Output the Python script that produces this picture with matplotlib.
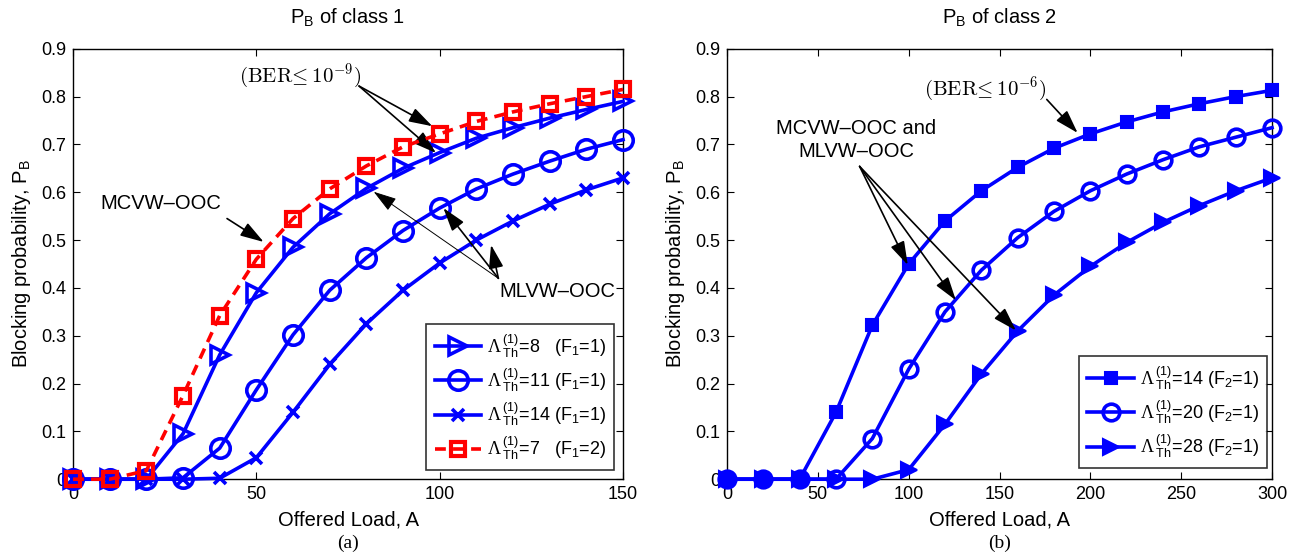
import numpy as np
import matplotlib
matplotlib.use("Agg")
import matplotlib.pyplot as plt

plt.rcParams['font.family'] = ['Liberation Sans', 'DejaVu Sans']
plt.rcParams['mathtext.fontset'] = 'custom'
plt.rcParams['mathtext.rm'] = 'Liberation Serif'
plt.rcParams['mathtext.sf'] = 'Liberation Sans'
plt.rcParams['mathtext.it'] = 'Liberation Sans:italic'

# panel (a): class 1
load_a = [0, 10, 20, 30, 40, 50, 60, 70, 80, 90, 100, 110, 120, 130, 140, 150]
pb_a_th8 = [0, 0, 0, 0.095, 0.26, 0.39, 0.485, 0.555, 0.608, 0.65, 0.683, 0.713, 0.735, 0.755, 0.773, 0.79]
pb_a_th11 = [0, 0, 0, 0.003, 0.065, 0.187, 0.302, 0.395, 0.463, 0.52, 0.567, 0.607, 0.638, 0.665, 0.69, 0.71]
pb_a_th14 = [0, 0, 0, 0, 0.002, 0.045, 0.14, 0.24, 0.325, 0.395, 0.452, 0.5, 0.54, 0.575, 0.605, 0.63]
pb_a_th7 = [0, 0, 0.018, 0.175, 0.342, 0.46, 0.545, 0.607, 0.655, 0.695, 0.722, 0.748, 0.768, 0.785, 0.8, 0.815]

# panel (b): class 2
load_b = [0, 20, 40, 60, 80, 100, 120, 140, 160, 180, 200, 220, 240, 260, 280, 300]
pb_b_th14 = [0, 0, 0, 0.14, 0.322, 0.45, 0.54, 0.603, 0.652, 0.692, 0.722, 0.747, 0.768, 0.785, 0.8, 0.813]
pb_b_th20 = [0, 0, 0, 0, 0.085, 0.23, 0.35, 0.437, 0.505, 0.56, 0.603, 0.638, 0.668, 0.695, 0.715, 0.735]
pb_b_th28 = [0, 0, 0, 0, 0, 0.02, 0.115, 0.22, 0.31, 0.385, 0.445, 0.495, 0.537, 0.572, 0.603, 0.63]

BLUE = (0, 0, 1)
RED = (1, 0, 0)
LW = 2.6
FS = 14.5


def lam(v, f, spaces=" "):
    return (r"$\Lambda\,^{\mathsf{(1)}}_{\mathsf{Th}}$=" + v + spaces
            + r"(F$_{\mathsf{" + f[0] + "}}$=" + f[1] + ")")


def style_axes(ax, xmax, xstep):
    ax.set_xlim(0, xmax)
    ax.set_ylim(0, 0.9)
    ax.set_xticks(np.arange(0, xmax + 1, xstep))
    ax.set_yticks(np.arange(0, 0.91, 0.1))
    ax.set_yticklabels(["0"] + ["%.1f" % v for v in np.arange(0.1, 0.91, 0.1)])
    ax.tick_params(direction="in", top=True, right=True, labelsize=13, length=5, pad=5)
    ax.set_xlabel("Offered Load, A", fontsize=FS, labelpad=5)
    ax.set_ylabel(r"Blocking probability, P$_{\mathsf{B}}$", fontsize=FS, labelpad=6)
    for s in ax.spines.values():
        s.set_linewidth(1.0)


def add_legend(ax, anchor):
    leg = ax.legend(loc="lower right", fontsize=13, fancybox=False, edgecolor="black",
                    handlelength=2.6, labelspacing=0.38, borderpad=0.45, handletextpad=0.3,
                    bbox_to_anchor=anchor, borderaxespad=0)
    leg.get_frame().set_linewidth(1.2)
    return leg


fig = plt.figure(figsize=(13.04, 5.54), dpi=100)
ax1 = fig.add_axes([0.056, 0.135, 0.4218, 0.777])
ax2 = fig.add_axes([0.5575, 0.135, 0.418, 0.777])

# ---- panel (a)
ax1.plot(load_a, pb_a_th8, color=BLUE, lw=LW, marker=">", ms=13, mfc="none", mew=2.6,
         label=lam("8", "11", "   "), zorder=3, clip_on=False)
ax1.plot(load_a, pb_a_th11, color=BLUE, lw=LW, marker="o", ms=14, mfc="none", mew=2.6,
         label=lam("11", "11"), zorder=3, clip_on=False)
ax1.plot(load_a, pb_a_th14, color=BLUE, lw=LW, marker="x", ms=9, mew=2.6,
         label=lam("14", "11"), zorder=3, clip_on=False)
ax1.plot(load_a, pb_a_th7, color=RED, lw=LW, ls=(0, (3, 2)), marker="s", ms=10, mfc="none", mew=3,
         label=lam("7", "12", "   "), zorder=4, clip_on=False)
style_axes(ax1, 150, 50)
ax1.set_title(r"P$_{\mathsf{B}}$ of class 1", fontsize=FS, pad=18)
add_legend(ax1, (0.984, 0.021))

arr = dict(arrowstyle="-|>,head_length=0.8,head_width=0.25", color="black", lw=1.2,
           mutation_scale=18, shrinkA=0, shrinkB=0)
arr_thin = dict(arr, lw=0.7)
ax1.text(62, 0.843, r"$\mathrm{(BER\!\leq 10^{-9})}$", fontsize=15, ha="center", va="center",
         math_fontfamily="cm")
ax1.annotate("", xy=(98, 0.738), xytext=(78, 0.822), arrowprops=arr)
ax1.annotate("", xy=(99, 0.682), xytext=(78, 0.822), arrowprops=arr)
ax1.text(24, 0.576, "MCVW\u2013OOC", fontsize=FS, ha="center", va="center")
ax1.annotate("", xy=(52, 0.496), xytext=(42, 0.545), arrowprops=arr)
ax1.text(132, 0.392, "MLVW\u2013OOC", fontsize=FS, ha="center", va="center")
ax1.annotate("", xy=(82, 0.601), xytext=(116, 0.42), arrowprops=arr_thin)
ax1.annotate("", xy=(101, 0.567), xytext=(116, 0.42), arrowprops=arr)
ax1.annotate("", xy=(114, 0.49), xytext=(116, 0.42), arrowprops=arr)

# ---- panel (b)
ax2.plot(load_b, pb_b_th14, color=BLUE, lw=LW, marker="s", ms=8, mfc=BLUE, mew=1.5,
         label=lam("14", "21"), zorder=3, clip_on=False)
ax2.plot(load_b, pb_b_th20, color=BLUE, lw=LW, marker="o", ms=12, mfc="none", mew=2.6,
         label=lam("20", "21"), zorder=3, clip_on=False)
ax2.plot(load_b, pb_b_th28, color=BLUE, lw=LW, marker=">", ms=12, mfc=BLUE, mew=1.5,
         label=lam("28", "21"), zorder=3, clip_on=False)
style_axes(ax2, 300, 50)
ax2.set_title(r"P$_{\mathsf{B}}$ of class 2", fontsize=FS, pad=18)
add_legend(ax2, (0.991, 0.026))

ax2.text(142, 0.816, r"$\mathrm{(BER\!\leq 10^{-6})}$", fontsize=15, ha="center", va="center",
         math_fontfamily="cm")
ax2.annotate("", xy=(193, 0.724), xytext=(176, 0.794), arrowprops=arr)
ax2.text(71, 0.71, "MCVW\u2013OOC and\nMLVW\u2013OOC", fontsize=FS, ha="center", va="center",
         linespacing=1.25)
ax2.annotate("", xy=(99.5, 0.448), xytext=(73, 0.654), arrowprops=arr)
ax2.annotate("", xy=(126, 0.374), xytext=(73, 0.654), arrowprops=arr)
ax2.annotate("", xy=(159, 0.311), xytext=(73, 0.654), arrowprops=arr)

fig.text(0.267, 0.02, "(a)", fontsize=14, ha="center", va="center", family="Liberation Serif")
fig.text(0.7665, 0.02, "(b)", fontsize=14, ha="center", va="center", family="Liberation Serif")

fig.savefig("out.png", dpi=100)
